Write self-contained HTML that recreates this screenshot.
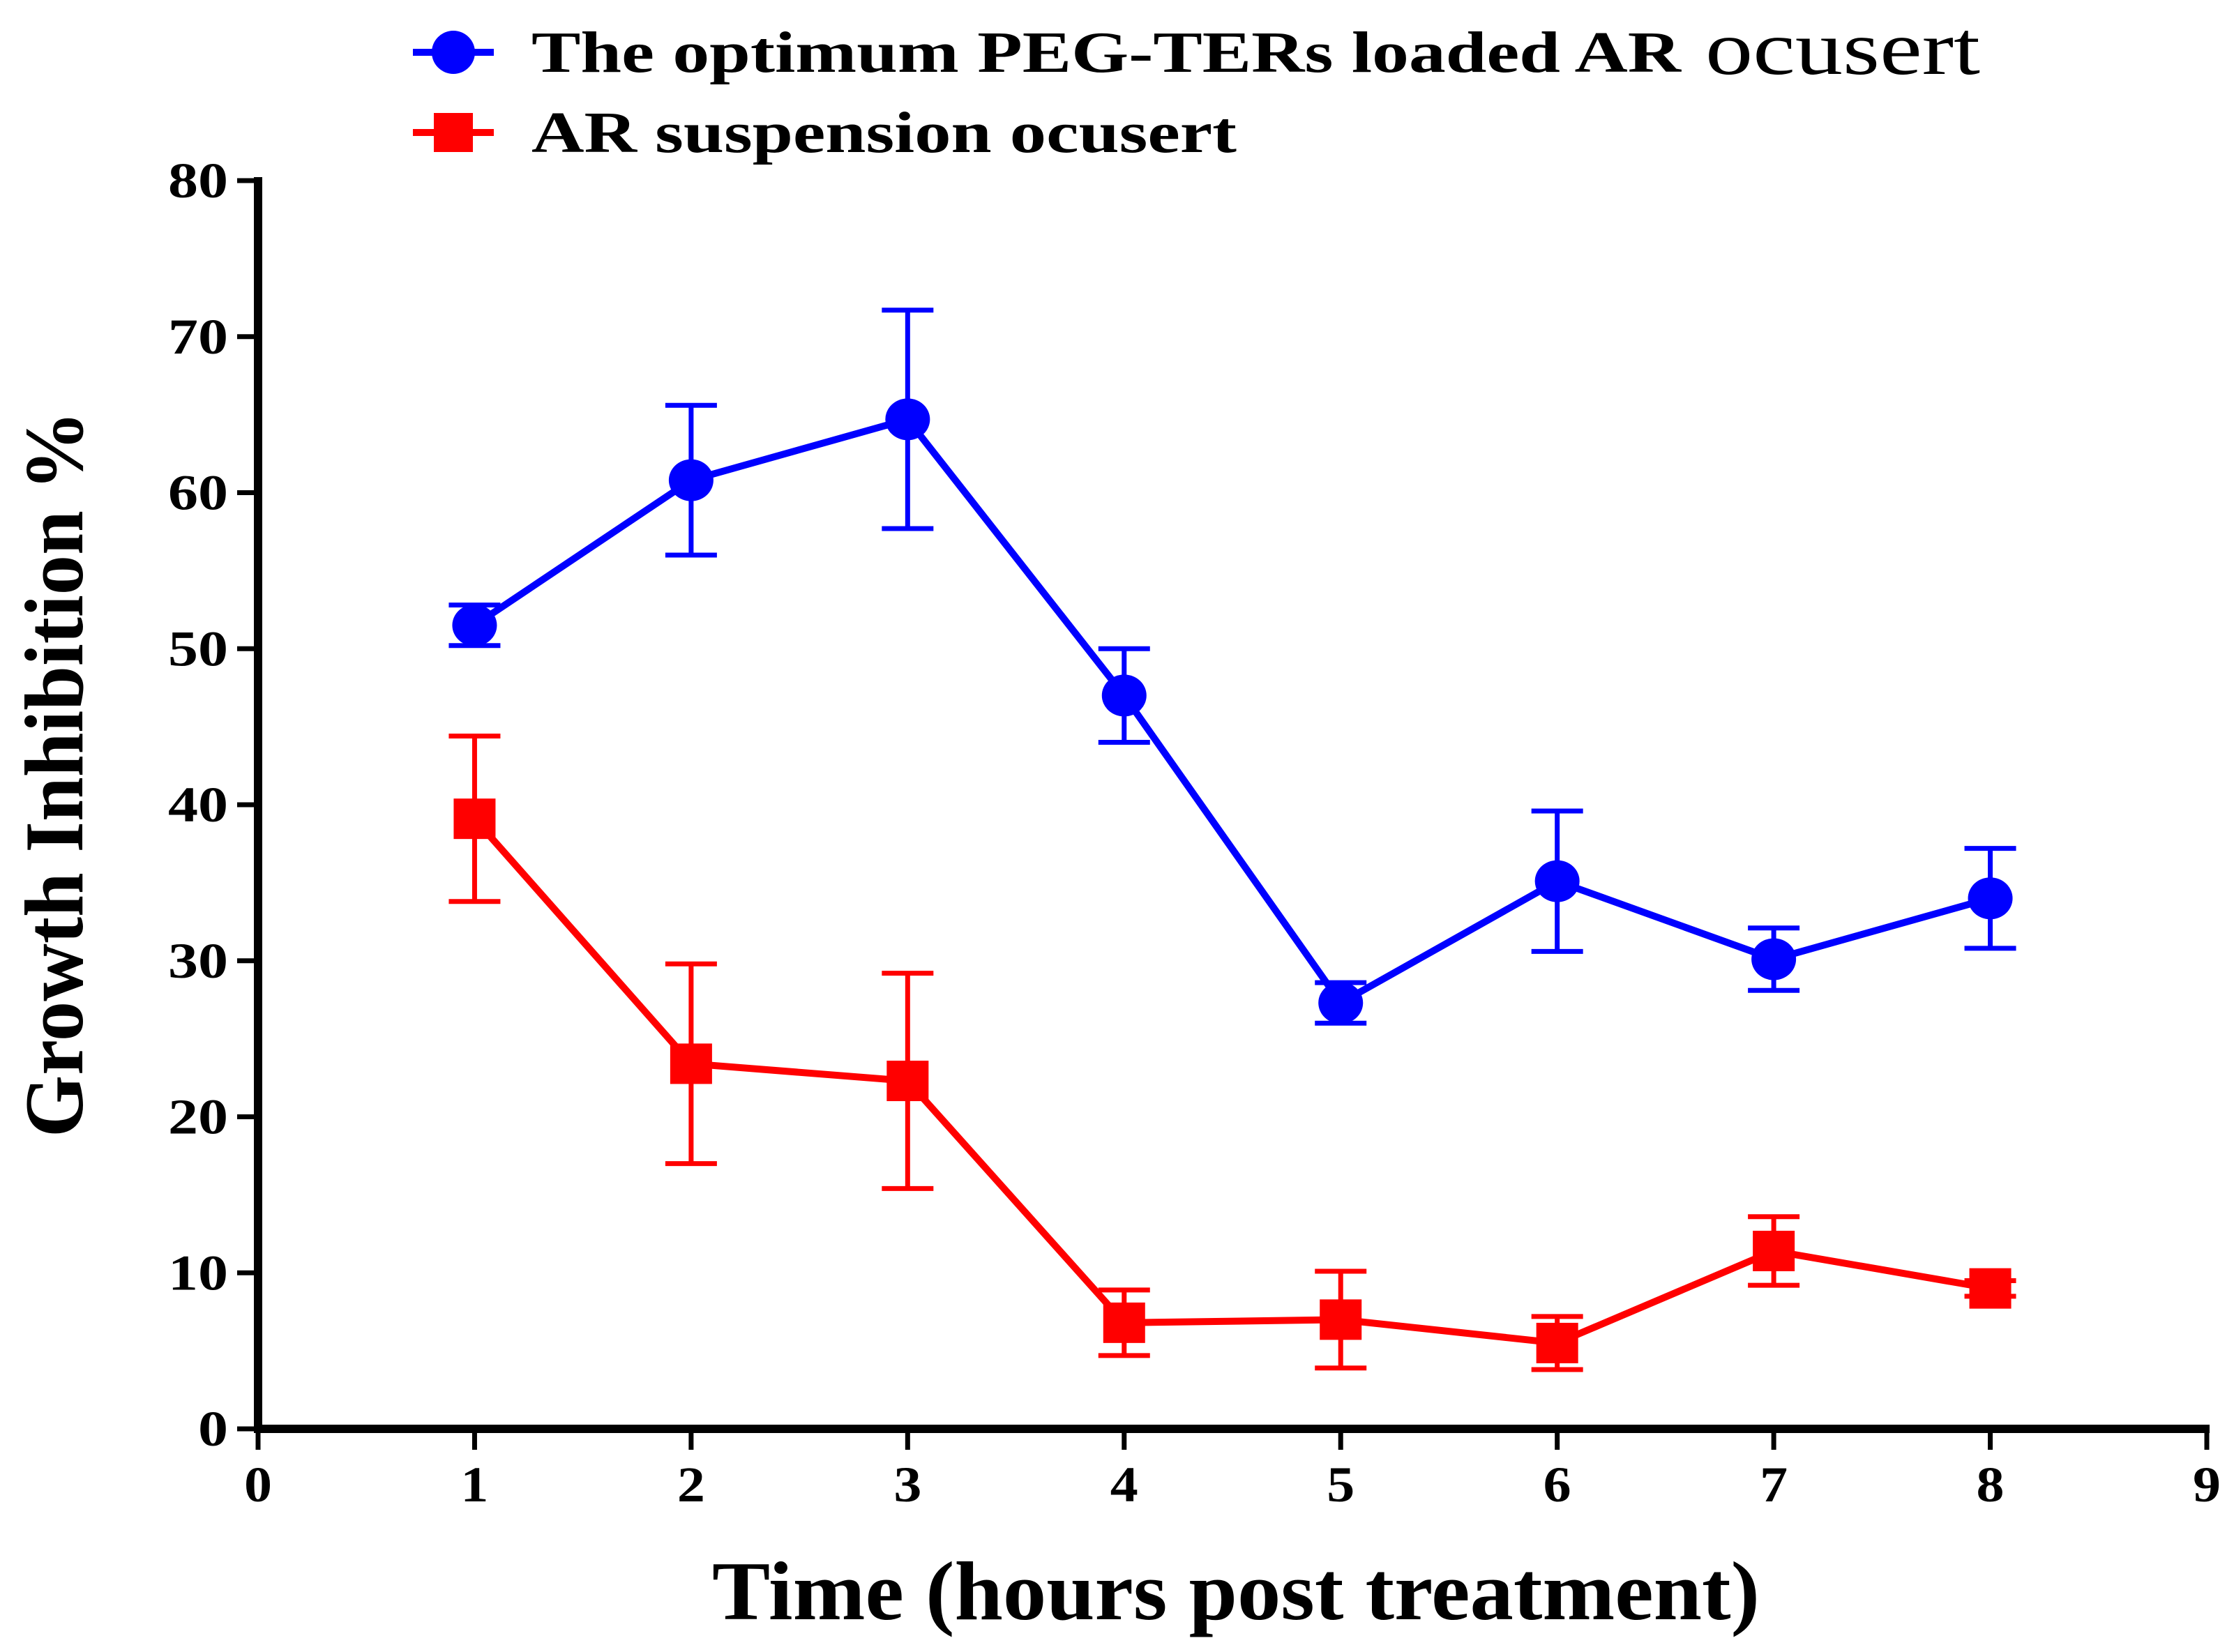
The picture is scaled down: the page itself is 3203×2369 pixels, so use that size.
<!DOCTYPE html>
<html><head><meta charset="utf-8"><style>
html,body{margin:0;padding:0;background:#fff;}
svg{display:block;}
text{font-family:"Liberation Serif",serif;font-weight:bold;fill:#000;}
</style></head><body>
<svg id="chart" width="3203" height="2369" viewBox="0 0 3203 2369" xmlns="http://www.w3.org/2000/svg">
<g id="legend">
  <g>
    <line x1="592" y1="75" x2="708" y2="75" stroke="#0000ff" stroke-width="10"/>
    <circle cx="650" cy="75" r="31" fill="#0000ff"/>
    <text x="762" y="103" font-size="84" textLength="1648" lengthAdjust="spacingAndGlyphs">The optimum PEG-TERs loaded AR</text>
    <text x="2445" y="106" font-size="110" style="font-weight:normal" textLength="394" lengthAdjust="spacingAndGlyphs">ocusert</text>
  </g>
  <g>
    <line x1="592" y1="190" x2="708" y2="190" stroke="#ff0000" stroke-width="10"/>
    <rect x="622" y="162" width="56" height="56" fill="#ff0000"/>
    <text x="762" y="218" font-size="84" textLength="1011" lengthAdjust="spacingAndGlyphs">AR suspension ocusert</text>
  </g>
</g>
<g id="axes"></g>
<g id="series"></g>
<text transform="translate(118,1110) rotate(-90)" text-anchor="middle" font-size="120" textLength="1042" lengthAdjust="spacingAndGlyphs">Growth Inhibition %</text>
<text x="1021" y="2322" font-size="120" textLength="1502" lengthAdjust="spacingAndGlyphs">Time (hours post treatment)</text>
</svg>
<script>
const xCategories = [1,2,3,4,5,6,7,8];
const blueValues = [51.5,60.8,64.7,47.0,27.3,35.1,30.1,34.0];
const blueErrors = [1.3,4.8,7.0,3.0,1.3,4.5,2.0,3.2];
const redValues = [39.1,23.4,22.3,6.8,7.0,5.5,11.4,9.0];
const redErrors = [5.3,6.4,6.9,2.1,3.1,1.7,2.2,0.5];
const xTicks = [0,1,2,3,4,5,6,7,8,9];
const yTicks = [0,10,20,30,40,50,60,70,80];

const NS="http://www.w3.org/2000/svg";
const X0=370,X1=3164,Y0=2049,Y1=259;
const xs=v=>X0+(v-0)/(9-0)*(X1-X0);
const ys=v=>Y0-(v-0)/(80-0)*(Y0-Y1);
function mk(tag,attrs,parent){const e=document.createElementNS(NS,tag);for(const k in attrs)e.setAttribute(k,attrs[k]);parent.appendChild(e);return e;}
const axes=document.getElementById('axes');
const yAxis=mk('line',{x1:X0,y1:Y1-5,x2:X0,y2:Y0+6,stroke:'#000','stroke-width':12},axes);


const xAxis=mk('line',{x1:X0-6,y1:Y0,x2:X1+4,y2:Y0,stroke:'#000','stroke-width':12},axes);


yTicks.forEach(t=>{
  const l=mk('line',{x1:X0-30,y1:ys(t),x2:X0,y2:ys(t),stroke:'#000','stroke-width':7},axes);
  
  
  const s=String(t);
  const w=s.length*43;
  const tx=mk('text',{x:X0-43-w,y:ys(t)+24,'font-size':72,textLength:w,lengthAdjust:'spacingAndGlyphs'},axes);
  
  
  tx.textContent=s;
});
xTicks.forEach(t=>{
  const l=mk('line',{x1:xs(t),y1:Y0,x2:xs(t),y2:Y0+30,stroke:'#000','stroke-width':7},axes);
  
  
  const tx=mk('text',{x:xs(t)-20,y:Y0+104,'font-size':72,textLength:40,lengthAdjust:'spacingAndGlyphs'},axes);
  
  
  tx.textContent=t;
});
const series=document.getElementById('series');
function draw(vals,errs,color,shape,name){
  const g=mk('g',{},series);
  
  
  vals.forEach((v,i)=>{
    const x=xs(xCategories[i]);
    const eb=mk('path',{d:`M${x},${ys(v-errs[i])}V${ys(v+errs[i])}M${x-37},${ys(v+errs[i])}H${x+37}M${x-37},${ys(v-errs[i])}H${x+37}`,stroke:color,'stroke-width':7,fill:'none'},g);
    
    
  });
  const pl=mk('polyline',{points:vals.map((v,i)=>xs(xCategories[i])+','+ys(v)).join(' '),stroke:color,'stroke-width':10,fill:'none','stroke-linejoin':'round'},g);
  
  
  vals.forEach((v,i)=>{
    const x=xs(xCategories[i]),y=ys(v);
    let m;
    if(shape==='circle') m=mk('ellipse',{cx:x,cy:y,rx:32,ry:30,fill:color},g);
    else m=mk('rect',{x:x-30,y:y-29,width:60,height:58,fill:color},g);
    
    
  });
}
draw(blueValues,blueErrors,'#0000ff','circle','peg-ters');
draw(redValues,redErrors,'#ff0000','square','ar-suspension');
</script>
</body></html>
